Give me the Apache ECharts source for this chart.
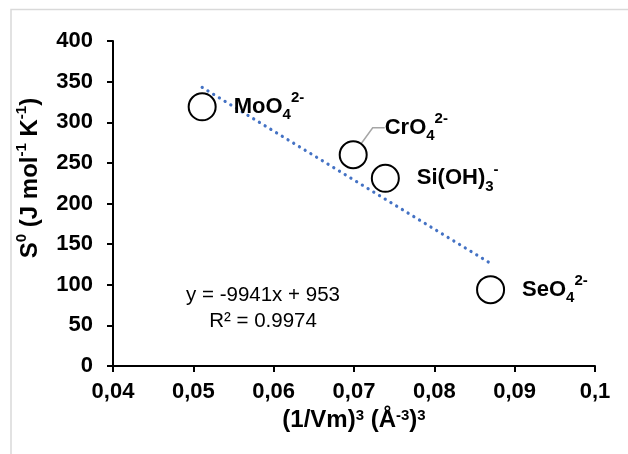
<!DOCTYPE html>
<html>
<head>
<meta charset="utf-8">
<script src="https://cdn.jsdelivr.net/npm/echarts@6/dist/echarts.min.js"></script>
<style>
  html, body { margin: 0; padding: 0; background: #fff; }
  #chart { width: 628px; height: 454px; }
</style>
</head>
<body>
<div id="chart"></div>
<script>
// Molar-volume term (1/Vm)^3 and standard entropy S0 for four oxyanions
const ionLabels = [
  '{m|MoO}{sb|4}{sp|2-}',
  '{m|CrO}{sb|4}{sp|2-}',
  '{m|Si(OH)}{sb|3}{sp|-}',
  '{m|SeO}{sb|4}{sp|2-}'
];
const invVmCubed = [0.0511, 0.0699, 0.0739, 0.0870];
const entropyS0 = [319, 260, 231, 94];
const xTicks = { min: 0.04, max: 0.1, step: 0.01 };
const yTicks = { min: 0, max: 400, step: 50 };
const equationLines = ['y = -9941x + 953', 'R\u00b2 = 0.9974'];
const calloutIndex = 1; // CrO4 label sits above its marker with a leader line

// least-squares fit through the plotted points, drawn between the outermost x values
function linearFit(xs, ys) {
  const n = xs.length;
  const mx = xs.reduce((a, b) => a + b, 0) / n;
  const my = ys.reduce((a, b) => a + b, 0) / n;
  let sxy = 0, sxx = 0;
  for (let i = 0; i < n; i++) {
    sxy += (xs[i] - mx) * (ys[i] - my);
    sxx += (xs[i] - mx) * (xs[i] - mx);
  }
  const slope = sxy / sxx;
  return { slope, intercept: my - slope * mx };
}
const fit = linearFit(invVmCubed, entropyS0);
const xLo = Math.min(...invVmCubed), xHi = Math.max(...invVmCubed);
const trendData = [[xLo, fit.slope * xLo + fit.intercept], [xHi, fit.slope * xHi + fit.intercept]];

const FONT = '"Liberation Sans", Arial, sans-serif';
const ionText = { fontWeight: 'bold', fontFamily: FONT, color: '#000', textBorderWidth: 0, opacity: 1 };
const richIon = {
  m:  Object.assign({ fontSize: 22, lineHeight: 32, verticalAlign: 'middle' }, ionText),
  sb: Object.assign({ fontSize: 15, lineHeight: 15, verticalAlign: 'bottom' }, ionText),
  sp: Object.assign({ fontSize: 15, lineHeight: 15, verticalAlign: 'top' }, ionText)
};

const scatterData = invVmCubed.map((x, i) => ({
  value: [x, entropyS0[i]],
  label: { formatter: ionLabels[i] },
  labelLine: { show: i === calloutIndex }
}));

const chart = echarts.init(document.getElementById('chart'), null, { renderer: 'canvas' });
chart.setOption({
  backgroundColor: '#fff',
  animation: false,
  grid: { left: 113, right: 33, top: 41, bottom: 88 },
  xAxis: {
    type: 'value',
    min: xTicks.min, max: xTicks.max, interval: xTicks.step,
    splitLine: { show: false },
    axisLine: { lineStyle: { color: '#000', width: 2 } },
    axisTick: { show: true, length: 6, lineStyle: { color: '#000', width: 2 } },
    axisLabel: {
      margin: 15, color: '#000', fontSize: 22, fontWeight: 'bold', fontFamily: FONT,
      formatter: v => String(+v.toFixed(2)).replace('.', ',')
    },
    name: '(1/Vm){s|3} (Å{s|-3}){s|3}',
    nameLocation: 'middle',
    nameGap: 40,
    nameTextStyle: {
      fontSize: 24, fontWeight: 'bold', fontFamily: FONT, color: '#000',
      rich: {
        s: { fontSize: 15, fontWeight: 'bold', fontFamily: FONT, color: '#000', verticalAlign: 'top', lineHeight: 15 }
      }
    }
  },
  yAxis: {
    type: 'value',
    min: yTicks.min, max: yTicks.max, interval: yTicks.step,
    splitLine: { show: false },
    axisLine: { show: true, onZero: false, lineStyle: { color: '#000', width: 2 } },
    axisTick: { show: true, length: 6, lineStyle: { color: '#000', width: 2 } },
    axisLabel: { margin: 20, color: '#000', fontSize: 22, fontWeight: 'bold', fontFamily: FONT }
  },
  graphic: [
    {
      type: 'rect', z: -10, silent: true,
      shape: { x: 11, y: 9.5, width: 700, height: 500 },
      style: { fill: 'none', stroke: '#d9d9d9', lineWidth: 1.5 }
    },
    {
      type: 'text', x: 30, y: 178, rotation: Math.PI / 2,
      style: {
        text: '{m|S}{s|0}{m| (J mol}{s|-1}{m| K}{s|-1}{m|)}',
        align: 'center', verticalAlign: 'middle',
        rich: {
          m: { fontSize: 24, fontWeight: 'bold', fontFamily: FONT, fill: '#000', lineHeight: 32, verticalAlign: 'middle' },
          s: { fontSize: 15, fontWeight: 'bold', fontFamily: FONT, fill: '#000', lineHeight: 15, verticalAlign: 'top' }
        }
      }
    },
    {
      type: 'text', x: 263, y: 295,
      style: { text: equationLines[0], align: 'center', verticalAlign: 'middle', fontSize: 20.5, fontFamily: FONT, fill: '#000' }
    },
    {
      type: 'text', x: 263, y: 321,
      style: { text: equationLines[1], align: 'center', verticalAlign: 'middle', fontSize: 20.5, fontFamily: FONT, fill: '#000' }
    }
  ],
  series: [
    {
      type: 'line',
      data: trendData,
      symbol: 'none',
      z: 2,
      lineStyle: { color: '#4472C4', width: 3.2, type: [0.1, 6.6], cap: 'round' }
    },
    {
      type: 'scatter',
      data: scatterData,
      symbol: 'circle',
      symbolSize: 27,
      z: 3,
      itemStyle: { color: '#fff', borderColor: '#000', borderWidth: 2, opacity: 1 },
      label: Object.assign({ show: true, position: 'right', distance: 17, fontSize: 22, rich: richIon }, ionText),
      labelLine: { show: false, length2: 12, lineStyle: { color: '#a6a6a6', width: 1.5, opacity: 1 } },
      labelLayout: p => (p.dataIndex === calloutIndex ? { dy: -27 } : {}),
      emphasis: { disabled: true }
    }
  ]
});
</script>
</body>
</html>
